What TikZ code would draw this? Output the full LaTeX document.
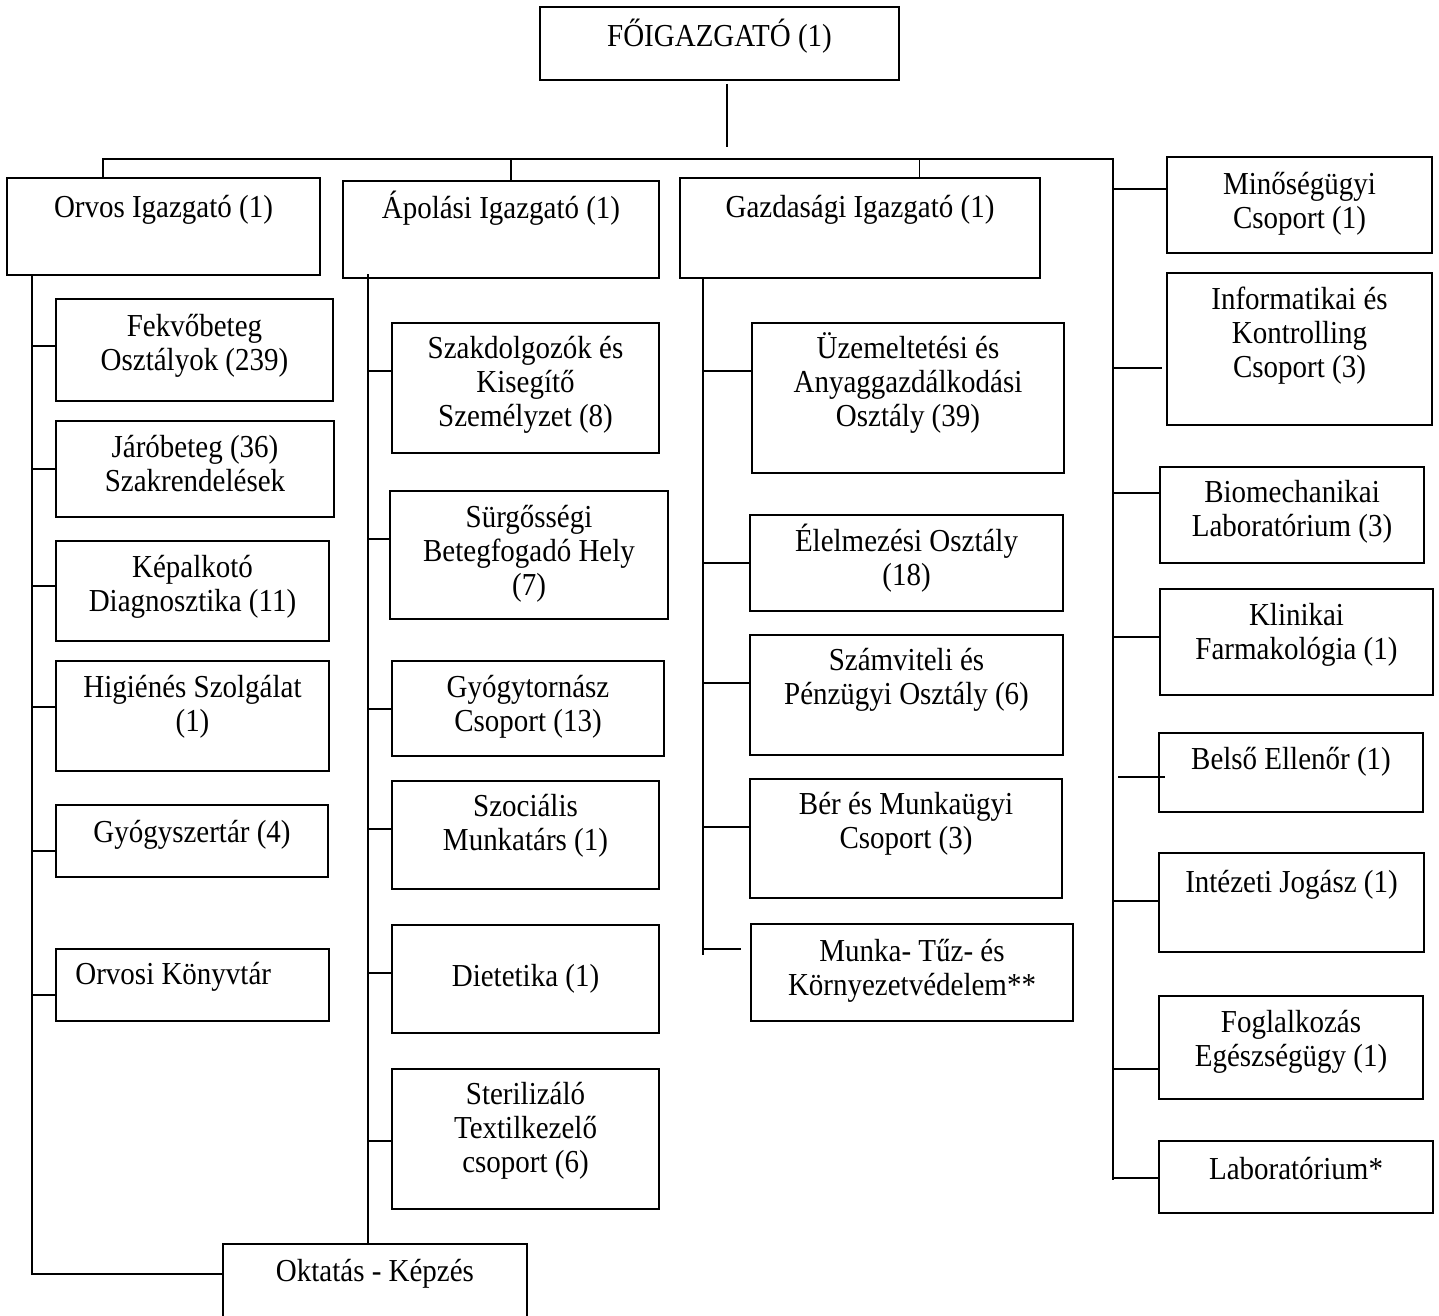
\documentclass[tikz,border=0pt]{standalone}
\usepackage{fontspec}
\setmainfont{Liberation Serif}[FakeStretch=0.906]
\usetikzlibrary{fit,calc}
\tikzset{
  box/.style={draw, line width=1.6pt, inner sep=0pt, rectangle},
  txt/.style={font=\fontsize{32}{34}\selectfont, align=center, inner sep=0pt},
  conn/.style={line width=1.6pt},
}
% name, x1, y1, x2, y2, dy (baseline - top - 30), text
\newcommand\obox[7]{%
  \coordinate (#1-nw) at (#2,#3);
  \coordinate (#1-se) at (#4,#5);
  \node[box, fit=(#1-nw)(#1-se)] (#1) {};
  \node[txt, anchor=north] (#1-t) at ($(#1.north)+(0,#6)$) {\rule{0pt}{30pt}#7};
}
\newcommand\brn[3]{\draw[conn] (#1 |- 0,#3) -- (#2.west |- 0,#3);}
\begin{document}
\begin{tikzpicture}[x=1pt,y=-1pt]
\clip (0,0) rectangle (1439,1315);
\useasboundingbox (0,0) rectangle (1439,1315);
\fill[white] (0,0) rectangle (1439,1315);

% top level
\obox{FO}{540}{7}{899}{80}{10}{FŐIGAZGATÓ (1)}
\obox{orvos}{7}{178}{320}{275}{10}{Orvos Igazgató (1)}
\obox{apolasi}{343}{181}{659}{278}{8}{Ápolási Igazgató (1)}
\obox{gazd}{680}{178}{1040}{278}{10}{Gazdasági Igazgató (1)}

% Orvos column
\obox{fek}{56}{299}{333}{401}{8}{Fekvőbeteg\\Osztályok (239)}
\obox{jaro}{56}{421}{334}{517}{7}{Járóbeteg (36)\\Szakrendelések}
\obox{kep}{56}{541}{329}{641}{7}{Képalkotó\\Diagnosztika (11)}
\obox{hig}{56}{661}{329}{771}{7}{Higiénés Szolgálat\\(1)}
\obox{gyogysz}{56}{805}{328}{877}{8}{Gyógyszertár (4)}
\coordinate (konyv-nw) at (56,949);
\coordinate (konyv-se) at (329,1021);
\node[box, fit=(konyv-nw)(konyv-se)] (konyv) {};
\node[txt, anchor=north west] (konyv-t) at ($(konyv.north west)+(20,6)$) {\rule{0pt}{30pt}Orvosi Könyvtár};

% Apolasi column
\obox{szak}{392}{323}{659}{453}{6}{Szakdolgozók és\\Kisegítő\\Személyzet (8)}
\obox{surg}{390}{491}{668}{619}{7}{Sürgősségi\\Betegfogadó Hely\\(7)}
\obox{gyt}{392}{661}{664}{756}{7}{Gyógytornász\\Csoport (13)}
\obox{szoc}{392}{781}{659}{889}{6}{Szociális\\Munkatárs (1)}
\obox{diet}{392}{925}{659}{1033}{32}{Dietetika (1)}
\obox{ster}{392}{1069}{659}{1209}{6}{Sterilizáló\\Textilkezelő\\csoport (6)}
\obox{okt}{223}{1244}{527}{1330}{8}{Oktatás - Képzés}

% Gazdasagi column
\obox{uzem}{752}{323}{1064}{473}{6}{Üzemeltetési és\\Anyaggazdálkodási\\Osztály (39)}
\obox{elel}{750}{515}{1063}{611}{7}{Élelmezési Osztály\\(18)}
\obox{szam}{750}{635}{1063}{755}{6}{Számviteli és\\Pénzügyi Osztály (6)}
\obox{ber}{750}{779}{1062}{898}{6}{Bér és Munkaügyi\\Csoport (3)}
\obox{munka}{751}{924}{1073}{1021}{8}{Munka- Tűz- és\\Környezetvédelem**}

% right column
\obox{min}{1167}{157}{1432}{253}{8}{Minőségügyi\\Csoport (1)}
\obox{info}{1167}{273}{1432}{425}{7}{Informatikai és\\Kontrolling\\Csoport (3)}
\obox{bio}{1160}{467}{1424}{563}{6}{Biomechanikai\\Laboratórium (3)}
\obox{klin}{1160}{589}{1433}{695}{7}{Klinikai\\Farmakológia (1)}
\obox{bels}{1159}{733}{1423}{812}{7}{Belső Ellenőr (1)}
\obox{intez}{1159}{853}{1424}{952}{10}{Intézeti Jogász (1)}
\obox{fogl}{1159}{996}{1423}{1099}{7}{Foglalkozás\\Egészségügy (1)}
\obox{lab}{1159}{1141}{1433}{1213}{9}{Laboratórium*}

% main connectors
\coordinate (foe) at (727,147);
\draw[conn] ($(foe |- FO.south)+(0,3)$) -- (foe);
\coordinate (busL) at (103,159);
\coordinate (busR) at (1113,159);
\coordinate (tR) at (1113,1180);
\draw[conn] (orvos.north -| busL) -- (busL) -- (busR) -- (tR);
\coordinate (dA) at (511,159);
\draw[conn] (dA) -- (dA |- apolasi.north);
\coordinate (dG) at (919.5,159);
\draw[conn] (dG) -- (dG |- gazd.north);

% trunks
\coordinate (tO) at (32,1274);
\draw[conn] (orvos.south -| tO) -- (tO) -- (tO -| okt.west);
\coordinate (tA) at (368,274);
\draw[conn] (tA) -- (okt.north -| tA);
\coordinate (tG) at (703,955);
\draw[conn] (gazd.south -| tG) -- (tG);

% Orvos branches
\brn{tO}{fek}{346}
\brn{tO}{jaro}{469}
\brn{tO}{kep}{586}
\brn{tO}{hig}{707}
\brn{tO}{gyogysz}{851}
\brn{tO}{konyv}{995}

% Apolasi branches
\brn{tA}{szak}{371}
\brn{tA}{surg}{539}
\brn{tA}{gyt}{709}
\brn{tA}{szoc}{829}
\brn{tA}{diet}{973}
\brn{tA}{ster}{1141}

% Gazdasagi branches
\brn{tG}{uzem}{371}
\brn{tG}{elel}{563}
\brn{tG}{szam}{683}
\brn{tG}{ber}{827}
\draw[conn] (tG |- 0,949) -- ($(munka.west |- 0,949)+(-9,0)$);

% right branches
\brn{tR}{min}{189}
\draw[conn] (tR |- 0,368) -- ($(info.west |- 0,368)+(-4,0)$);
\brn{tR}{bio}{493}
\brn{tR}{klin}{637}
\draw[conn] ($(tR |- 0,777)+(5,0)$) -- ($(bels.west |- 0,777)+(7,0)$);
\brn{tR}{intez}{901}
\brn{tR}{fogl}{1069}
\brn{tR}{lab}{1178}
\end{tikzpicture}
\end{document}
